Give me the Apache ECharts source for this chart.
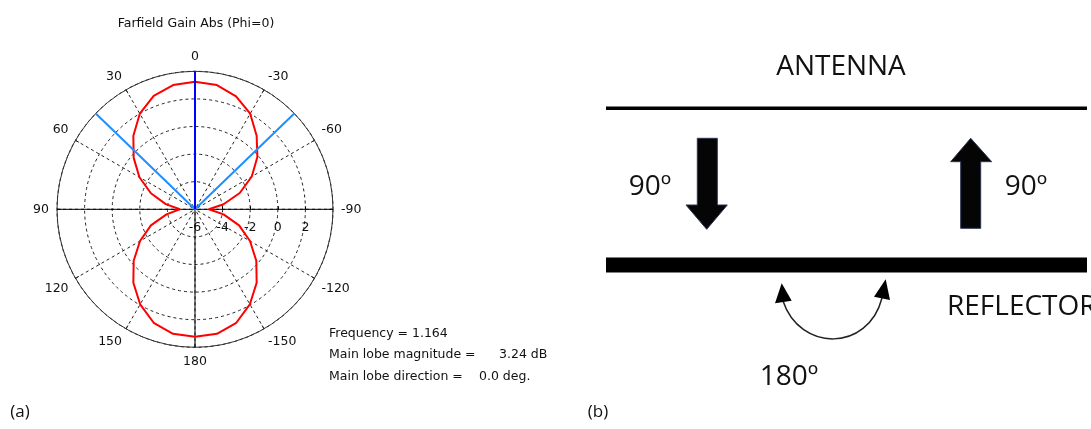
<!DOCTYPE html>
<html>
<head>
<meta charset="utf-8">
<script src="https://cdn.jsdelivr.net/npm/echarts@6/dist/echarts.min.js"></script>
<style>
  html, body { margin: 0; padding: 0; background: #fff; }
  #chart { width: 1091px; height: 429px; }
</style>
</head>
<body>
<div id="chart"></div>
<script>
// Farfield gain cut at Phi = 0: theta (deg) and absolute gain (dB)
const thetaDeg = [-180, -170, -160, -150, -140, -130, -120, -110, -100, -90,
                  -80, -70, -60, -50, -40, -30, -20, -10, 0,
                  10, 20, 30, 40, 50, 60, 70, 80, 90,
                  100, 110, 120, 130, 140, 150, 160, 170, 180];
const gainDb = [3.24, 3.16, 2.75, 1.95, 0.95, -0.2, -1.4, -2.6, -3.9, -5.0,
                -3.9, -2.55, -1.25, -0.1, 0.95, 2.0, 2.7, 3.14, 3.24,
                3.14, 2.75, 2.0, 0.95, -0.2, -1.35, -2.6, -3.85, -4.9,
                -3.9, -2.6, -1.4, -0.2, 0.95, 1.95, 2.75, 3.16, 3.24];

// Radial scale (dB) and angular ticks (deg)
const radiusMin = -6;
const radiusMax = 4;
const radiusStep = 2;
const angleStep = 30;

// Main lobe direction and -3 dB beam edges (deg)
const mainLobeDir = 0;
const beamEdges = [46, -46];

const titleText = 'Farfield Gain Abs (Phi=0)';
const infoLabels = ['Frequency = 1.164', 'Main lobe magnitude =', 'Main lobe direction ='];
const infoValues = ['', '3.24 dB', '0.0 deg.'];

// theta = 0 points up, positive theta runs counter-clockwise; the angle
// axis starts at the east side, so shift by 90 degrees.
const toAxis = t => (((t + 90) % 360) + 360) % 360;
const axisToLabel = v => { let t = v - 90; if (t > 180) t -= 360; return String(t); };

const uiFont = 'DejaVu Sans';
const docFont = 'Open Sans';

const chart = echarts.init(document.getElementById('chart'));

const patternData = thetaDeg.map((t, i) => [gainDb[i], toAxis(t)]);

const infoFont = '12.5px "' + uiFont + '"';
const infoGraphics = [];
infoLabels.forEach((txt, i) => {
  infoGraphics.push({
    type: 'text', left: 329, top: 327 + i * 21.7,
    style: { text: txt, font: infoFont, fill: '#111' }
  });
});
infoGraphics.push({ type: 'text', left: 499, top: 327 + 21.7,
  style: { text: infoValues[1], font: infoFont, fill: '#111' } });
infoGraphics.push({ type: 'text', left: 479, top: 327 + 43.4,
  style: { text: infoValues[2], font: infoFont, fill: '#111' } });

function docText(text, x, y, size, align) {
  return {
    type: 'text', x: x, y: y,
    style: { text: text, font: size + 'px "' + docFont + '"', fill: '#111',
             align: align || 'center', verticalAlign: 'middle' }
  };
}

const arrowStyle = { fill: '#050505', stroke: '#2a3550', lineWidth: 1 };

const diagram = [
  // antenna element and reflector plate
  { type: 'rect', shape: { x: 606, y: 106.5, width: 481, height: 3.5 }, style: { fill: '#000' } },
  { type: 'rect', shape: { x: 606, y: 257.5, width: 481, height: 15 }, style: { fill: '#000' } },
  docText('ANTENNA', 841, 67, 28),
  docText('REFLECTOR', 947, 307, 28, 'left'),
  docText('90º', 650, 187, 28),
  docText('90º', 1026, 187, 28),
  docText('180º', 789, 377, 28),
  // downward wave arrow
  { type: 'polygon', shape: { points: [[697.3, 138.3], [717.3, 138.3], [717.3, 205], [727.3, 205],
      [706.7, 229.3], [686, 205], [697.3, 205]] }, style: arrowStyle },
  // reflected upward wave arrow
  { type: 'polygon', shape: { points: [[960.7, 228.3], [980.7, 228.3], [980.7, 161.7], [991.7, 161.7],
      [970.7, 138.3], [950.7, 161.7], [960.7, 161.7]] }, style: arrowStyle },
  // 180 degree phase arc with arrowheads
  { type: 'bezierCurve', shape: { x1: 783, y1: 301, cpx1: 800, cpy1: 352, cpx2: 868, cpy2: 352, x2: 882, y2: 298 },
    style: { stroke: '#222', lineWidth: 1.5, fill: null } },
  { type: 'polygon', shape: { points: [[781.7, 283.3], [775, 303.3], [791.7, 300.7]] }, style: { fill: '#000' } },
  { type: 'polygon', shape: { points: [[885.7, 279.3], [874, 296.7], [890, 300]] }, style: { fill: '#000' } },
  docText('(a)', 20, 412, 17),
  docText('(b)', 598, 412, 17)
];

chart.setOption({
  backgroundColor: '#fff',
  animation: false,
  title: {
    text: titleText, left: 191, top: 12, textAlign: 'center',
    textStyle: { fontFamily: uiFont, fontSize: 12.5, fontWeight: 'normal', color: '#111' }
  },
  polar: { center: [195, 209.3], radius: 138 },
  angleAxis: {
    type: 'value', min: 0, max: 360, interval: angleStep,
    startAngle: 0, clockwise: false,
    axisLine: { lineStyle: { color: '#333', width: 1 } },
    axisTick: { show: true, inside: true, length: 4, lineStyle: { color: '#333' } },
    axisLabel: { formatter: axisToLabel, margin: 8, color: '#111', fontFamily: uiFont, fontSize: 12.5 },
    splitLine: { show: true, lineStyle: { type: [3, 3], color: '#222', width: 1 } }
  },
  radiusAxis: {
    type: 'value', min: radiusMin, max: radiusMax, interval: radiusStep,
    axisLine: { show: false },
    axisTick: { show: true, length: 3, lineStyle: { color: '#000' } },
    // labels sit beneath the horizontal radius line
    axisLabel: { color: '#111', fontFamily: uiFont, fontSize: 12.5, margin: -25, showMaxLabel: false },
    splitLine: { show: true, lineStyle: { type: [3, 3], color: '#222', width: 1 } }
  },
  series: [
    { type: 'line', coordinateSystem: 'polar', silent: true, showSymbol: false, z: 2,
      data: [[radiusMax, 0], [radiusMax, 180]], lineStyle: { color: '#000', width: 1 } },
    { type: 'line', coordinateSystem: 'polar', silent: true, showSymbol: false, z: 2,
      data: [[radiusMax, 90], [radiusMax, 270]], lineStyle: { color: '#000', width: 1 } },
    { type: 'line', coordinateSystem: 'polar', silent: true, showSymbol: false, z: 3,
      data: patternData, lineStyle: { color: '#ff0000', width: 2 } },
    { type: 'line', coordinateSystem: 'polar', silent: true, showSymbol: false, z: 4,
      data: [[radiusMax, toAxis(beamEdges[0])], [radiusMin, toAxis(mainLobeDir)], [radiusMax, toAxis(beamEdges[1])]],
      lineStyle: { color: '#1e8fff', width: 2 } },
    { type: 'line', coordinateSystem: 'polar', silent: true, showSymbol: false, z: 5,
      data: [[radiusMin, toAxis(mainLobeDir)], [radiusMax, toAxis(mainLobeDir)]],
      lineStyle: { color: '#0000ff', width: 2 } }
  ],
  graphic: infoGraphics.concat(diagram)
});
</script>
</body>
</html>
